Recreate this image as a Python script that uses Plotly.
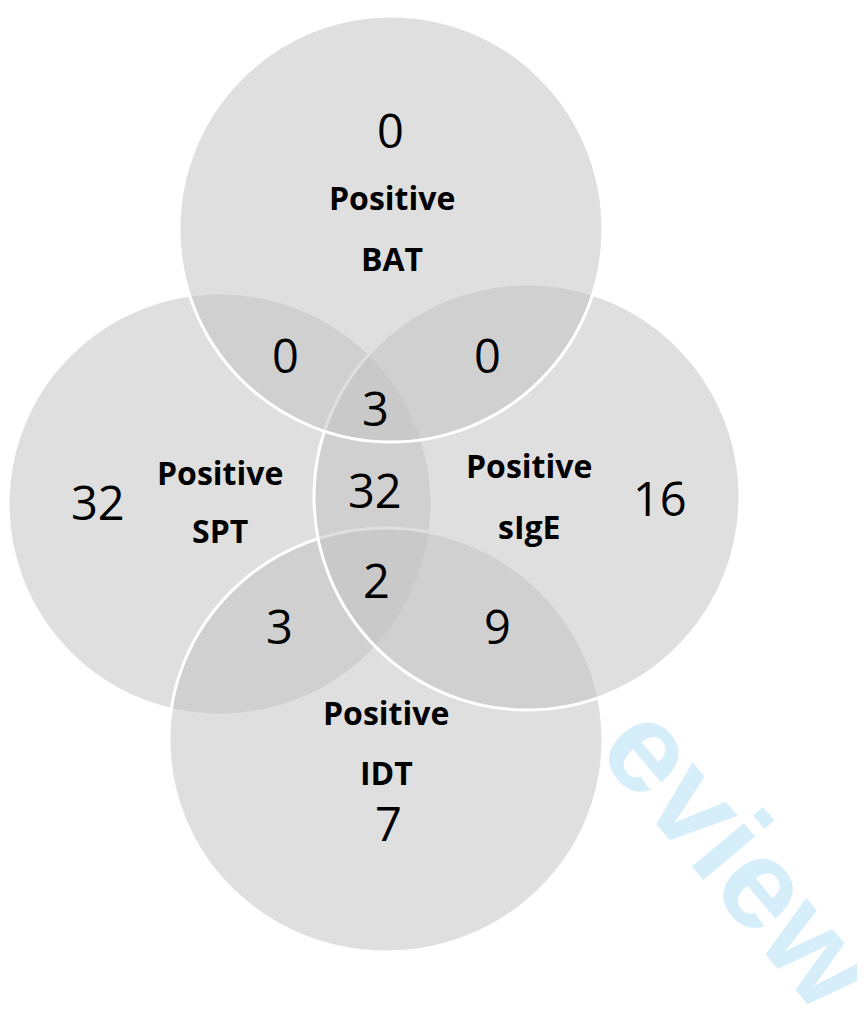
import plotly.graph_objects as go

# ---- data ----
set_names = ["SPT", "IDT", "sIgE", "BAT"]          # drawing order
set_titles = ["Positive", "Positive", "Positive", "Positive"]
region_names = ["BAT", "BAT&SPT", "BAT&sIgE", "BAT&SPT&sIgE", "SPT", "SPT&sIgE",
                "sIgE", "SPT&sIgE&IDT", "SPT&IDT", "sIgE&IDT", "IDT"]
region_counts = [0, 0, 0, 3, 32, 32, 16, 2, 3, 9, 7]

# ---- layout geometry (page-pixel space; the page body has an 8px margin) ----
PAGE_W, PAGE_H = 865, 1015
OFF = 8
FIG_W, FIG_H = PAGE_W - OFF, PAGE_H - 2 * OFF
circle_geom = {
    "SPT":  (220, 504, 212, 211),
    "IDT":  (386, 740, 217, 212),
    "sIgE": (527, 497, 213, 213),
    "BAT":  (391, 229, 212, 213),
}
label_pos = {
    "BAT":  ((392, 197), (392, 258)),
    "SPT":  ((220, 472), (220, 530)),
    "sIgE": ((529, 465), (529, 526)),
    "IDT":  ((386, 712), (386, 772)),
}
count_pos = {
    "BAT": (390, 130), "BAT&SPT": (285, 355), "BAT&sIgE": (487, 355),
    "BAT&SPT&sIgE": (375, 408), "SPT": (98, 502), "SPT&sIgE": (375, 490),
    "sIgE": (660, 498), "SPT&sIgE&IDT": (376, 580), "SPT&IDT": (279, 626),
    "sIgE&IDT": (497, 626), "IDT": (388, 823),
}

fig = go.Figure()
fig.add_trace(go.Scatter(x=[OFF, PAGE_W], y=[OFF, FIG_H + OFF], mode="markers",
                         marker=dict(opacity=0), hoverinfo="skip", showlegend=False))

shapes = []
for name in set_names:
    cx, cy, rx, ry = circle_geom[name]
    shapes.append(dict(type="circle", xref="x", yref="y",
                       x0=cx - rx, x1=cx + rx, y0=cy - ry, y1=cy + ry,
                       fillcolor="rgba(195,195,195,0.53)",
                       line=dict(color="white", width=3)))

annotations = []
# watermark
annotations.append(dict(x=741, y=855, xref="x", yref="y", text="<b>eview</b>",
                        showarrow=False, textangle=50,
                        font=dict(family="Liberation Sans, Arial, sans-serif", size=128,
                                  color="#d5eefa"),
                        xanchor="center", yanchor="middle"))

for name, title in zip(set_names, set_titles):
    (x1, y1), (x2, y2) = label_pos[name]
    for t, (x, y) in ((title, (x1, y1)), (name, (x2, y2))):
        annotations.append(dict(x=x, y=y, xref="x", yref="y", text="<b>%s</b>" % t,
                                showarrow=False,
                                font=dict(family="Open Sans, sans-serif", size=32,
                                          color="black"),
                                xanchor="center", yanchor="middle"))

for rname, cnt in zip(region_names, region_counts):
    x, y = count_pos[rname]
    annotations.append(dict(x=x, y=y, xref="x", yref="y", text=str(cnt),
                            showarrow=False,
                            font=dict(family="Open Sans, sans-serif", size=47,
                                      color="black"),
                            xanchor="center", yanchor="middle"))

fig.update_layout(
    width=FIG_W, height=FIG_H,
    margin=dict(l=0, r=0, t=0, b=0),
    paper_bgcolor="white", plot_bgcolor="white",
    xaxis=dict(range=[OFF, PAGE_W], visible=False, fixedrange=True),
    yaxis=dict(range=[FIG_H + OFF, OFF], visible=False, fixedrange=True),
    shapes=shapes, annotations=annotations,
    showlegend=False,
)

fig.write_html("out.html")
